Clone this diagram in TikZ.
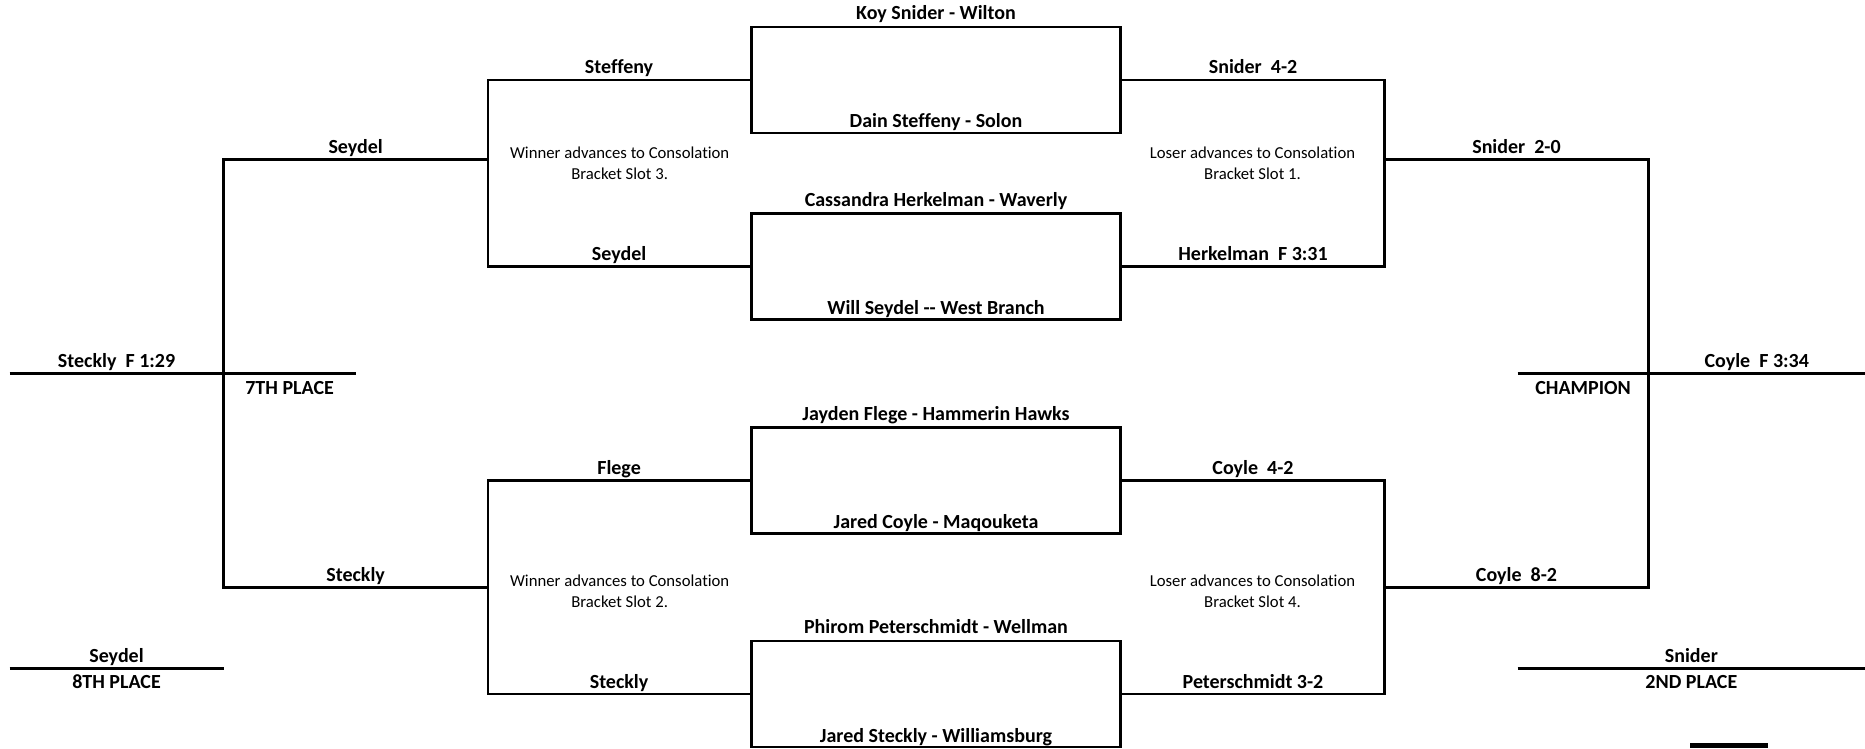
\documentclass[tikz,border=0pt]{standalone}
\usepackage{fontspec}
\setmainfont[Ligatures={TeX,NoCommon}]{Carlito}
\usepackage{tikz}
\tikzstyle{bout}=[rectangle, draw, line width=2.4pt, minimum width=368.7pt, minimum height=106pt, inner sep=0pt]
\tikzstyle{wire}=[draw, line width=2.4pt, line join=miter]
\tikzstyle{wname}=[font=\fontsize{20}{24}\selectfont\bfseries, anchor=base, inner sep=0pt]
\tikzstyle{onwire}=[yshift=6pt]
\tikzstyle{underwire}=[yshift=-20.5pt]
\tikzstyle{note}=[font=\fontsize{16.7}{21.4}\selectfont, align=center, inner sep=0pt]

\begin{document}
\begin{tikzpicture}[x=1pt, y=-1pt]
    \useasboundingbox (0,0) rectangle (1865,748);

    % first round bouts
    \node[bout] (m1) at (936,79.7) {};
    \node[bout] (m2) at (936,266.4) {};
    \node[bout] (m3) at (936,480.5) {};
    \node[bout] (m4) at (936,694) {};
    \node[wname, onwire] (t1) at (m1.north) {Koy Snider - Wilton};
    \node[wname, onwire] (b1) at (m1.south) {Dain Steffeny - Solon};
    \node[wname, onwire] (t2) at (m2.north) {Cassandra Herkelman - Waverly};
    \node[wname, onwire] (b2) at (m2.south) {Will Seydel -{}- West Branch};
    \node[wname, onwire] (t3) at (m3.north) {Jayden Flege - Hammerin Hawks};
    \node[wname, onwire] (b3) at (m3.south) {Jared Coyle - Maqouketa};
    \node[wname, onwire] (t4) at (m4.north) {Phirom Peterschmidt - Wellman};
    \node[wname, onwire] (b4) at (m4.south) {Jared Steckly - Williamsburg};

    % left half
    \coordinate (la1) at (487.7,79.7);
    \coordinate (lb1) at (487.7,266.4);
    \coordinate (la2) at (487.7,480.5);
    \coordinate (lb2) at (487.7,694);
    \coordinate (lc1) at (487.7,159.4);
    \coordinate (ld1) at (223.6,159.4);
    \coordinate (lc2) at (487.7,587.6);
    \coordinate (ld2) at (223.6,587.6);
    \draw[wire] (m1.west) -- node[wname, onwire] (w1) {Steffeny} (la1)
        -- (lb1) -- node[wname, onwire] (w2) {Seydel} (m2.west);
    \draw[wire] (m3.west) -- node[wname, onwire] (w3) {Flege} (la2)
        -- (lb2) -- node[wname, onwire] (w4) {Steckly} (m4.west);
    \draw[wire] (lc1) -- node[wname, onwire] (w5) {Seydel} (ld1)
        -- (ld2) -- node[wname, onwire] (w6) {Steckly} (lc2);
    \node[note] (c3) at (619.7,163) {Winner advances to Consolation\\Bracket Slot 3.};
    \node[note] (c2) at (619.7,591) {Winner advances to Consolation\\Bracket Slot 2.};

    \coordinate (f1) at (9.5,373.5);
    \coordinate (f3) at (223.6,373.5);
    \coordinate (f2) at (355.6,373.5);
    \draw[wire] (f1) -- node[wname, onwire] (p7) {Steckly\ \ F 1:29} (f3)
        -- node[wname, underwire] (p7l) {7TH PLACE} (f2);
    \coordinate (e1) at (9.5,668.4);
    \coordinate (e2) at (223.6,668.4);
    \draw[wire] (e1) -- node[wname, onwire] (p8) {Seydel}
        node[wname, underwire] (p8l) {8TH PLACE} (e2);

    % right half
    \coordinate (ra1) at (1384.5,79.7);
    \coordinate (rb1) at (1384.5,266.4);
    \coordinate (ra2) at (1384.5,480.5);
    \coordinate (rb2) at (1384.5,694);
    \coordinate (rc1) at (1384.5,159.4);
    \coordinate (rd1) at (1648.5,159.4);
    \coordinate (rc2) at (1384.5,587.6);
    \coordinate (rd2) at (1648.5,587.6);
    \draw[wire] (m1.east) -- node[wname, onwire] (v1) {Snider\ \ 4-2} (ra1)
        -- (rb1) -- node[wname, onwire] (v2) {Herkelman\ \ F 3:31} (m2.east);
    \draw[wire] (m3.east) -- node[wname, onwire] (v3) {Coyle\ \ 4-2} (ra2)
        -- (rb2) -- node[wname, onwire] (v4) {Peterschmidt 3-2} (m4.east);
    \draw[wire] (rc1) -- node[wname, onwire] (v5) {Snider\ \ 2-0} (rd1)
        -- (rd2) -- node[wname, onwire] (v6) {Coyle\ \ 8-2} (rc2);
    \node[note] (c1) at (1252.5,163) {Loser advances to Consolation\\Bracket Slot 1.};
    \node[note] (c4) at (1252.5,591) {Loser advances to Consolation\\Bracket Slot 4.};

    \coordinate (g1) at (1517.7,373.5);
    \coordinate (g3) at (1648.5,373.5);
    \coordinate (g2) at (1865,373.5);
    \draw[wire] (g1) -- node[wname, underwire] (p1l) {CHAMPION} (g3)
        -- node[wname, onwire] (p1) {Coyle\ \ F 3:34} (g2);
    \coordinate (h1) at (1517.7,668.4);
    \coordinate (h2) at (1865,668.4);
    \draw[wire] (h1) -- node[wname, onwire] (p2) {Snider}
        node[wname, underwire] (p2l) {2ND PLACE} (h2);

    \fill (1690,743) rectangle (1768,748);
\end{tikzpicture}
\end{document}
